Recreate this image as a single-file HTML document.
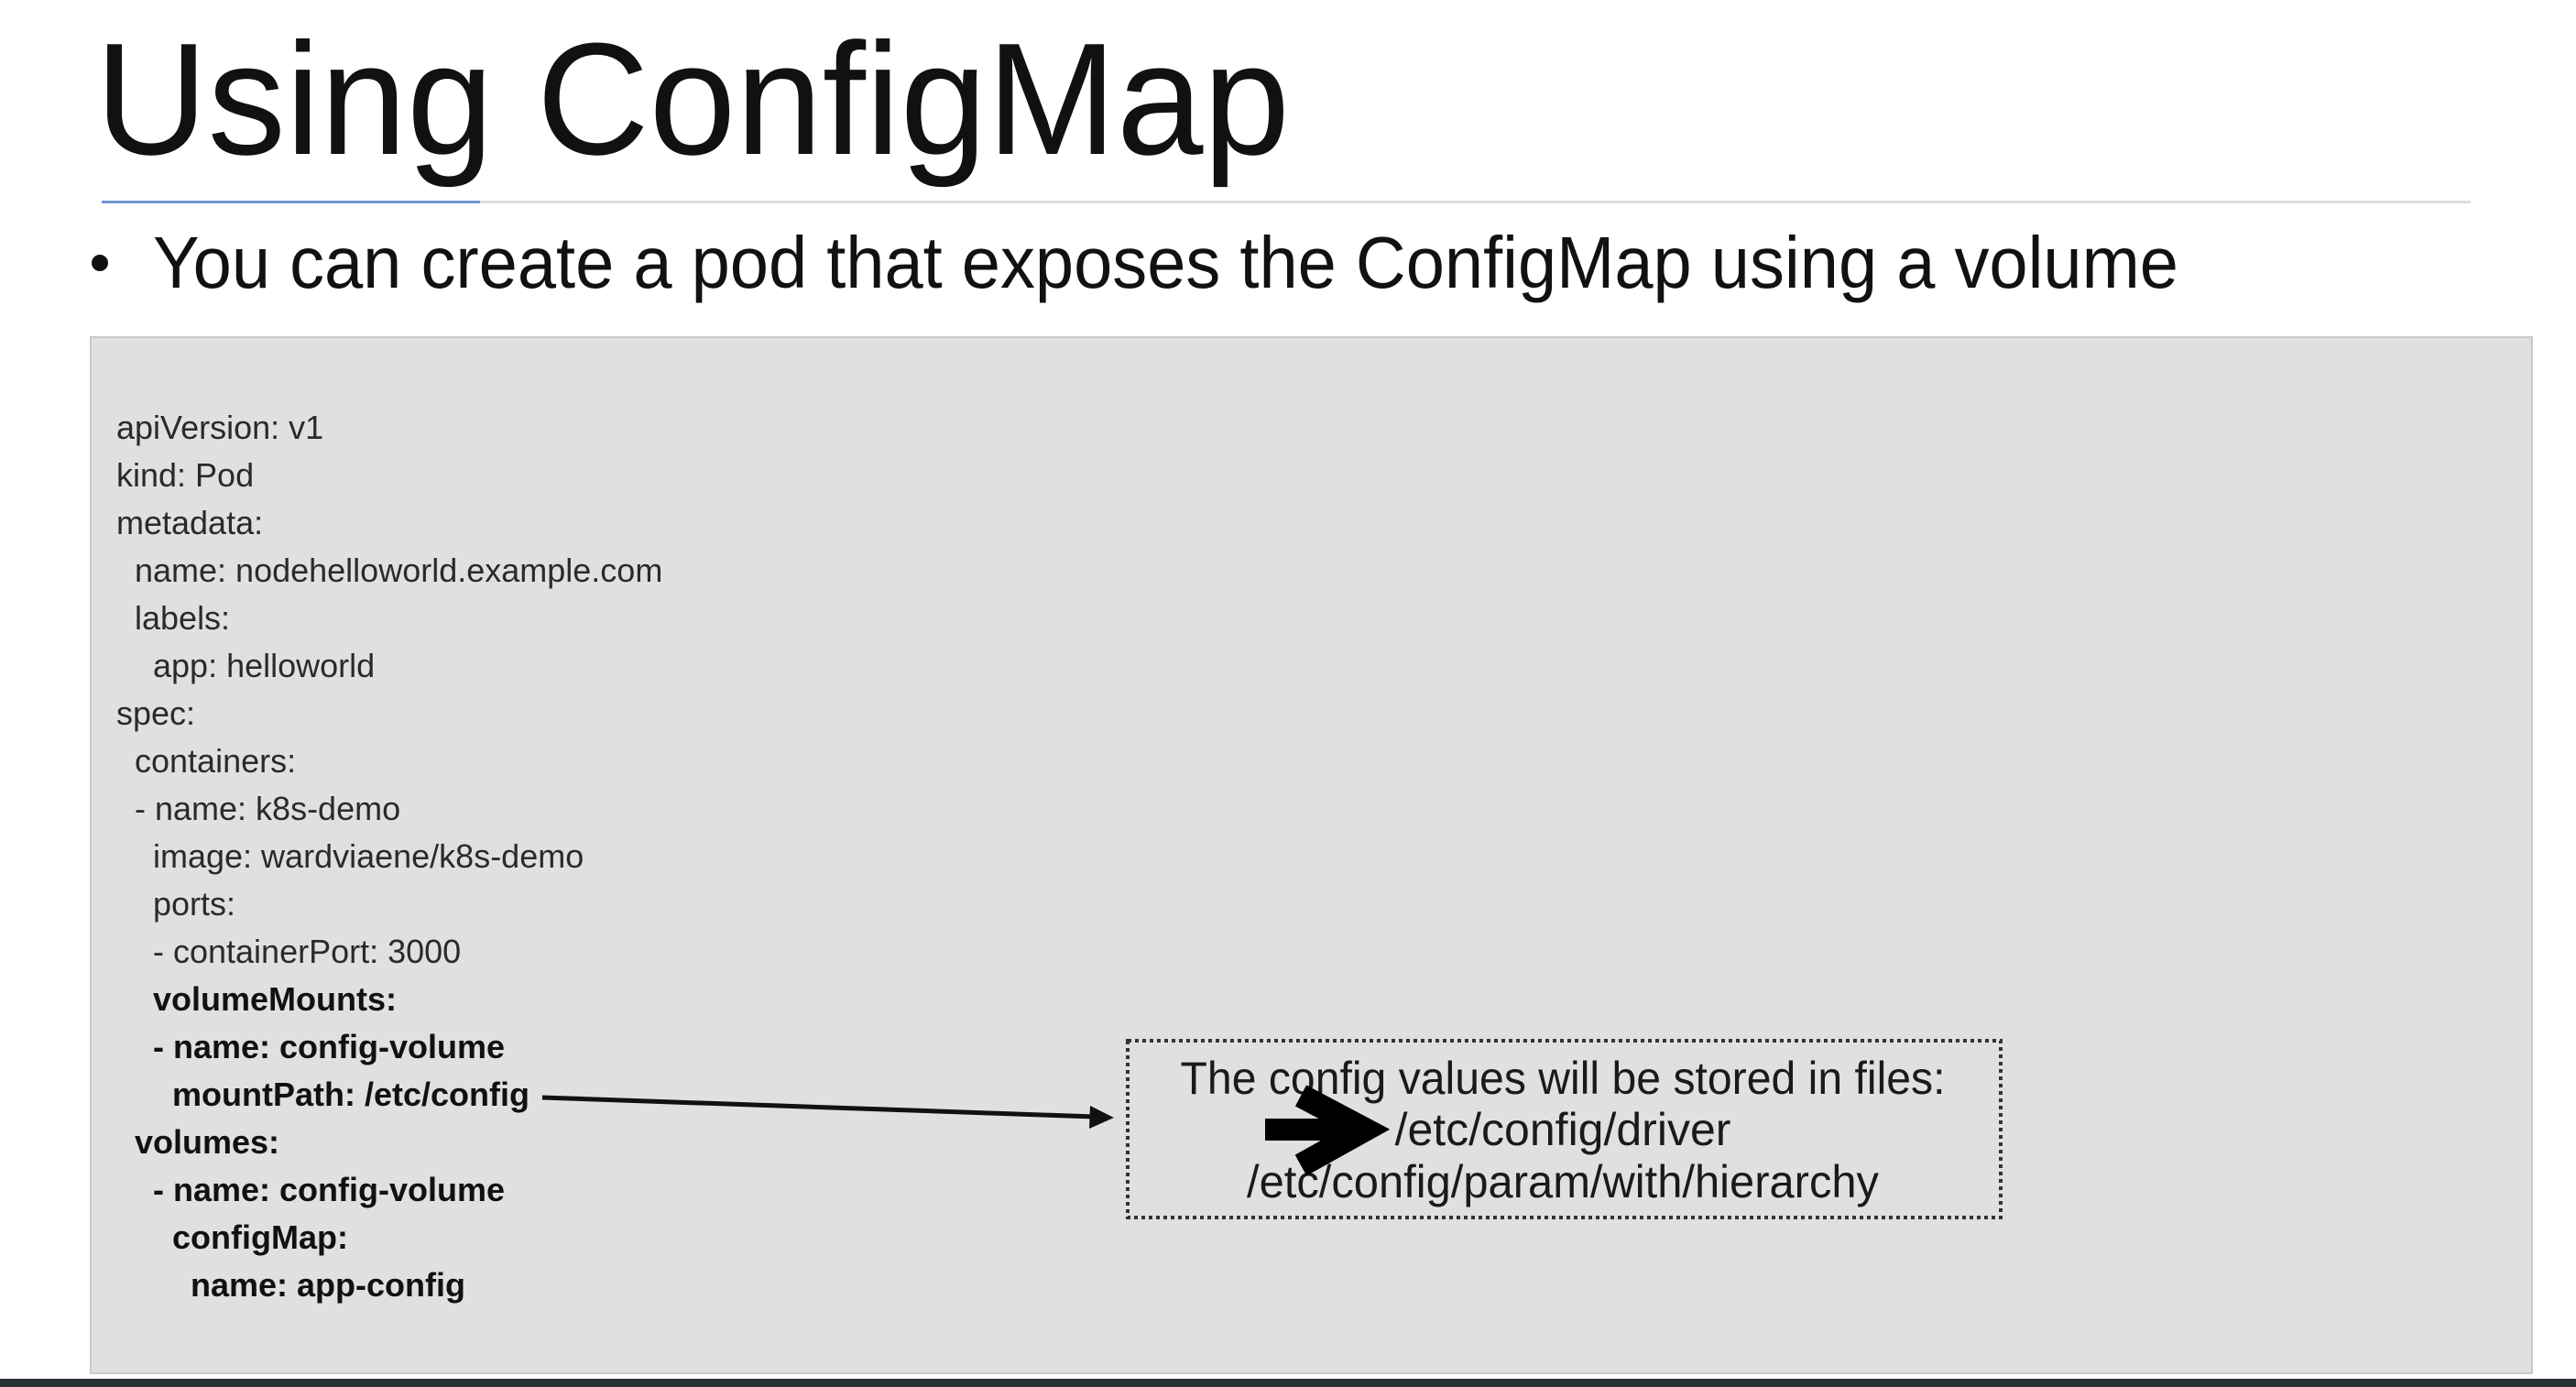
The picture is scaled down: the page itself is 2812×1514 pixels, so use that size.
<!DOCTYPE html>
<html><head><meta charset="utf-8"><style>
html,body{margin:0;padding:0;background:#fff;}
svg{display:block;}
text{font-family:"Liberation Sans",sans-serif;}
</style></head><body>
<svg width="2812" height="1514" viewBox="0 0 2812 1514" xmlns="http://www.w3.org/2000/svg">
<rect width="2812" height="1514" fill="#ffffff"/>
<text x="104" y="168" font-size="174" fill="#111" textLength="1304" lengthAdjust="spacingAndGlyphs">Using ConfigMap</text>
<rect x="111" y="219" width="2586" height="3" fill="#dcdcdc"/>
<rect x="111" y="219" width="413" height="3" fill="#6f98cf"/>
<circle cx="109" cy="287" r="9" fill="#111"/>
<text x="167" y="314" font-size="80" fill="#111" textLength="2211" lengthAdjust="spacingAndGlyphs">You can create a pod that exposes the ConfigMap using a volume</text>
<rect x="99" y="368" width="2665" height="1131" fill="#dfe0e2" stroke="#c8c9cb" stroke-width="2"/>
<rect x="0" y="1505" width="2812" height="9" fill="#2a3134"/>
<g font-size="36" fill="#2a2a2a">
<text x="127" y="479">apiVersion: v1</text>
<text x="127" y="531">kind: Pod</text>
<text x="127" y="583">metadata:</text>
<text x="147" y="635">name: nodehelloworld.example.com</text>
<text x="147" y="687">labels:</text>
<text x="167" y="739">app: helloworld</text>
<text x="127" y="791">spec:</text>
<text x="147" y="843">containers:</text>
<text x="147" y="895">- name: k8s-demo</text>
<text x="167" y="947">image: wardviaene/k8s-demo</text>
<text x="167" y="999">ports:</text>
<text x="167" y="1051">- containerPort: 3000</text>
</g>
<g font-size="36" fill="#111" font-weight="bold">
<text x="167" y="1103">volumeMounts:</text>
<text x="167" y="1155">- name: config-volume</text>
<text x="188" y="1207">mountPath: /etc/config</text>
<text x="147" y="1259">volumes:</text>
<text x="167" y="1311">- name: config-volume</text>
<text x="188" y="1363">configMap:</text>
<text x="208" y="1415">name: app-config</text>
</g>
<line x1="592" y1="1198" x2="1195" y2="1219" stroke="#111" stroke-width="5"/>
<polygon points="1216,1220 1190,1207 1189,1232" fill="#111"/>
<rect x="1231" y="1136" width="953" height="193" fill="none" stroke="#333" stroke-width="4" stroke-dasharray="4 4"/>
<g font-size="50" fill="#1a1a1a" text-anchor="middle">
<text x="1706" y="1194" textLength="835" lengthAdjust="spacingAndGlyphs">The config values will be stored in files:</text>
<text x="1706" y="1250">/etc/config/driver</text>
<text x="1706" y="1307" textLength="690" lengthAdjust="spacingAndGlyphs">/etc/config/param/with/hierarchy</text>
</g>
<line x1="1381" y1="1233" x2="1480" y2="1233" stroke="#000" stroke-width="24"/>
<polyline points="1420,1196 1490,1233 1420,1272" fill="none" stroke="#000" stroke-width="26" stroke-linejoin="miter"/>
</svg>
</body></html>
